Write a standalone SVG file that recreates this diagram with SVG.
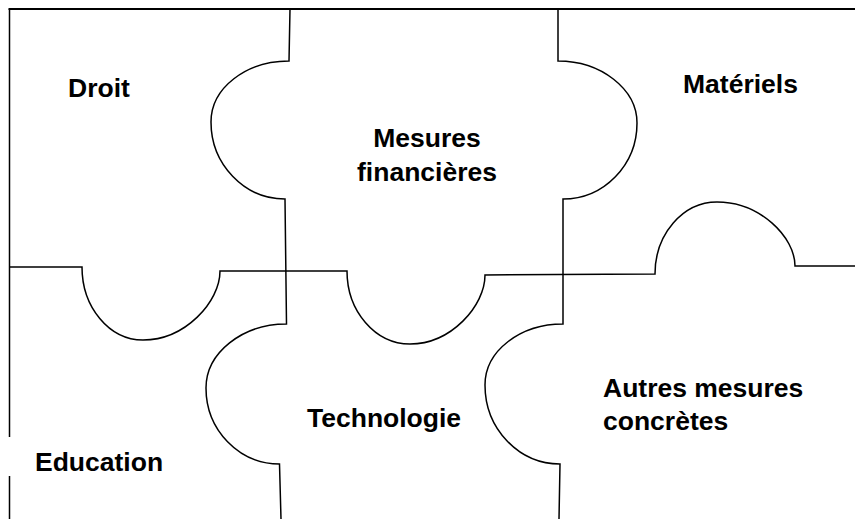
<svg xmlns="http://www.w3.org/2000/svg" width="855" height="519" viewBox="0 0 855 519">
<style>
.ln{fill:none;stroke:#000;stroke-width:1.5}
.top{fill:none;stroke:#000;stroke-width:2}
.lbl{font-family:"Liberation Sans",Arial,sans-serif;font-weight:bold;font-size:26.5px;fill:#000}
</style>
<rect width="855" height="519" fill="#fff"/>
<g id="connectors">
<path class="top" d="M8.5,9 H855"/>
<path class="ln" d="M9.5,9 V437 M9.5,476 V519"/>
<path class="ln" d="M290,9 L289,61 C246,61 211,88 211,122 C211,164 244,199 285,199 L286.5,324 C242,324 206,353 206,388 C206,430 239,464 279.5,464 L281,519"/>
<path class="ln" d="M558,9 L558,61 C601,61 637,89 637,123 C637,165 604,199 563,199 L563,324 C520,324 485,351 485,385 C485,429 519,464 560,464 L559,519"/>
<path class="ln" d="M9,267 L82,267 C82,307 109,340 143,340 C185,340 220,302 220,271 L347,271 C347,311 375,344 410,344 C451,344 485,306 485,275 L655,274 C655,234 683,202 717,202 C760,202 795,237 795,266 L855,266"/>
</g>
<g id="droit"><text class="lbl" x="68" y="97">Droit</text></g>
<g id="mesures-financieres"><text class="lbl" x="427" y="147" text-anchor="middle">Mesures</text><text class="lbl" x="427" y="181" text-anchor="middle">financières</text></g>
<g id="materiels"><text class="lbl" x="683" y="93">Matériels</text></g>
<g id="education"><text class="lbl" x="35" y="471">Education</text></g>
<g id="technologie"><text class="lbl" x="307" y="427">Technologie</text></g>
<g id="autres-mesures"><text class="lbl" x="603" y="397">Autres mesures</text><text class="lbl" x="603" y="430">concrètes</text></g>
</svg>
